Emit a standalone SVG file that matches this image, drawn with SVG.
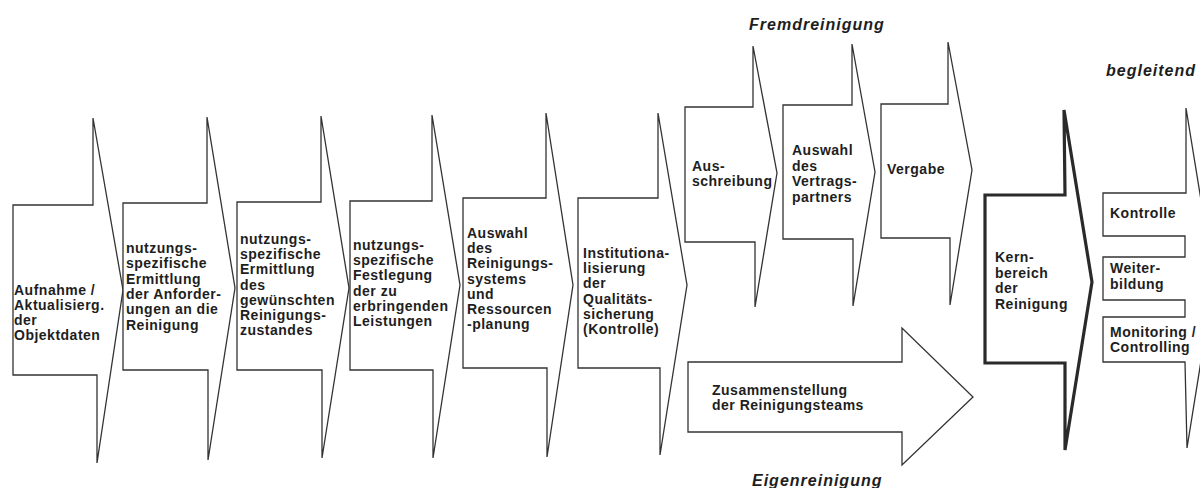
<svg xmlns="http://www.w3.org/2000/svg" width="1200" height="488" viewBox="0 0 1200 488">
<style>
.sh{fill:#fff;stroke:#333;stroke-width:1.3;stroke-linejoin:miter}
.thick{fill:#fff;stroke:#2a2a2a;stroke-width:3.2;stroke-linejoin:miter}
.t{font-family:"Liberation Sans",Arial,sans-serif;font-weight:bold;font-size:14px;letter-spacing:0.5px;fill:#1e1e1e}
.lab{font-family:"Liberation Sans",Arial,sans-serif;font-weight:bold;font-style:italic;font-size:16px;letter-spacing:1px;fill:#1e1e1e}
</style>
<rect width="1200" height="488" fill="#fff"/>
<g id="connectors"></g>
<g id="label-fremd"><text class="lab" x="749" y="30">Fremdreinigung</text></g>
<g id="label-begleitend"><text class="lab" x="1106" y="76">begleitend</text></g>
<g id="label-eigen"><text class="lab" x="752" y="486">Eigenreinigung</text></g>

<g id="n1">
<polygon class="sh" points="13,205 93,205 93,118 123,290 97,463 97,375 13,375"/>
<text class="t" x="14" y="295">Aufnahme /</text>
<text class="t" x="14" y="310">Aktualisierg.</text>
<text class="t" x="14" y="325">der</text>
<text class="t" x="14" y="340">Objektdaten</text>
</g>
<g id="n2">
<polygon class="sh" points="123,203 207,203 207,117 235,288 208,460 208,370 123,370"/>
<text class="t" x="126" y="253">nutzungs-</text>
<text class="t" x="126" y="268.3">spezifische</text>
<text class="t" x="126" y="283.6">Ermittlung</text>
<text class="t" x="126" y="298.9">der Anforder-</text>
<text class="t" x="126" y="314.2">ungen an die</text>
<text class="t" x="126" y="329.5">Reinigung</text>
</g>
<g id="n3">
<polygon class="sh" points="237,202 321,202 321,116 349,288 322,458 322,370 237,370"/>
<text class="t" x="240" y="244">nutzungs-</text>
<text class="t" x="240" y="259.2">spezifische</text>
<text class="t" x="240" y="274.4">Ermittlung</text>
<text class="t" x="240" y="289.6">des</text>
<text class="t" x="240" y="304.8">gewünschten</text>
<text class="t" x="240" y="320">Reinigungs-</text>
<text class="t" x="240" y="335.2">zustandes</text>
</g>
<g id="n4">
<polygon class="sh" points="350,201 432,201 432,115 460,285 433,458 433,370 350,370"/>
<text class="t" x="353" y="250">nutzungs-</text>
<text class="t" x="353" y="265.2">spezifische</text>
<text class="t" x="353" y="280.4">Festlegung</text>
<text class="t" x="353" y="295.6">der zu</text>
<text class="t" x="353" y="310.8">erbringenden</text>
<text class="t" x="353" y="326">Leistungen</text>
</g>
<g id="n5">
<polygon class="sh" points="463,198 546,198 546,113 573,285 547,457 547,368 463,368"/>
<text class="t" x="467" y="238">Auswahl</text>
<text class="t" x="467" y="253.2">des</text>
<text class="t" x="467" y="268.4">Reinigungs-</text>
<text class="t" x="467" y="283.6">systems</text>
<text class="t" x="467" y="298.8">und</text>
<text class="t" x="467" y="314">Ressourcen</text>
<text class="t" x="467" y="329.2">-planung</text>
</g>
<g id="n6">
<polygon class="sh" points="578,198 658,198 658,113 687,285 660,455 660,368 578,368"/>
<text class="t" x="583" y="258">Institutiona-</text>
<text class="t" x="583" y="273.2">lisierung</text>
<text class="t" x="583" y="288.4">der</text>
<text class="t" x="583" y="303.6">Qualitäts-</text>
<text class="t" x="583" y="318.8">sicherung</text>
<text class="t" x="583" y="334">(Kontrolle)</text>
</g>
<g id="n7">
<polygon class="sh" points="685,107 753,107 753,46 777,173 755,307 755,242 685,242"/>
<text class="t" x="692" y="171">Aus-</text>
<text class="t" x="692" y="185.5">schreibung</text>
</g>
<g id="n8">
<polygon class="sh" points="783,105 852,105 852,44 875,172 853,306 853,239 783,239"/>
<text class="t" x="792" y="155">Auswahl</text>
<text class="t" x="792" y="170.5">des</text>
<text class="t" x="792" y="186">Vertrags-</text>
<text class="t" x="792" y="201.5">partners</text>
</g>
<g id="n9">
<polygon class="sh" points="881,104 948,104 948,42 972,170 950,305 950,238 881,238"/>
<text class="t" x="887" y="174">Vergabe</text>
</g>
<g id="n10">
<polygon class="sh" points="688,362 902,362 902,328 973,397 902,465 902,432 688,432"/>
<text class="t" x="712" y="395">Zusammenstellung</text>
<text class="t" x="712" y="410">der Reinigungsteams</text>
</g>
<g id="n11">
<polygon class="thick" points="985,195 1065,195 1064,110 1092,282 1065,450 1065,363 985,363"/>
<text class="t" x="995" y="262">Kern-</text>
<text class="t" x="995" y="277.5">bereich</text>
<text class="t" x="995" y="293">der</text>
<text class="t" x="995" y="308.5">Reinigung</text>
</g>
<g id="n12">
<polygon class="sh" points="1103,193 1186,193 1186,108 1214,280 1187,448 1185,362 1103,362 1103,317 1185,317 1185,300 1103,300 1103,257 1185,257 1185,236 1103,236"/>
<text class="t" x="1110" y="218">Kontrolle</text>
<text class="t" x="1110" y="273">Weiter-</text>
<text class="t" x="1110" y="289">bildung</text>
<text class="t" x="1110" y="337">Monitoring /</text>
<text class="t" x="1110" y="352">Controlling</text>
</g>
</svg>
